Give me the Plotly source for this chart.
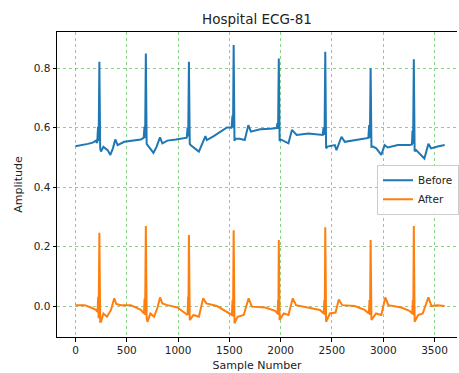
import plotly.graph_objects as go

# Values (sample index, amplitude)
before_x = [0, 60, 120, 168, 200, 212, 220, 226, 233, 241, 249, 272, 314, 340, 365, 388, 411, 475, 560, 637,
            665, 673, 679, 686, 694, 702, 734, 760, 790, 824, 847, 896, 980, 1057,
            1085, 1093, 1099, 1106, 1114, 1122, 1160, 1203, 1267, 1280, 1348, 1400, 1445, 1477, 1515,
            1522, 1530, 1536, 1542, 1550, 1558, 1600, 1650, 1685, 1710, 1800, 1900, 1946,
            1962, 1968, 1975, 1982, 1990, 2001, 2040, 2076, 2110, 2156, 2270, 2383, 2410,
            2418, 2428, 2435, 2443, 2457, 2528, 2544, 2593, 2625, 2722, 2819, 2855,
            2863, 2870, 2877, 2885, 2900, 2932, 2981, 3013, 3045, 3142, 3256, 3280,
            3285, 3291, 3298, 3306, 3320, 3353, 3401, 3440, 3466, 3530, 3599]
before_y = [0.537, 0.540, 0.545, 0.549, 0.556, 0.548, 0.602, 0.555, 0.821, 0.530, 0.519, 0.535, 0.524, 0.508, 0.530, 0.560, 0.541, 0.552, 0.556, 0.560,
            0.565, 0.603, 0.565, 0.849, 0.545, 0.541, 0.524, 0.515, 0.535, 0.567, 0.547, 0.556, 0.560, 0.563,
            0.566, 0.600, 0.570, 0.821, 0.545, 0.541, 0.530, 0.519, 0.571, 0.558, 0.571, 0.582, 0.592, 0.600, 0.600,
            0.598, 0.640, 0.600, 0.877, 0.555, 0.563, 0.562, 0.558, 0.608, 0.586, 0.594, 0.596, 0.597,
            0.598, 0.615, 0.595, 0.832, 0.555, 0.560, 0.552, 0.547, 0.592, 0.575, 0.580, 0.574, 0.575,
            0.600, 0.575, 0.855, 0.530, 0.536, 0.541, 0.524, 0.569, 0.552, 0.558, 0.563, 0.565,
            0.608, 0.565, 0.799, 0.535, 0.536, 0.530, 0.508, 0.541, 0.533, 0.541, 0.541, 0.543,
            0.590, 0.545, 0.829, 0.520, 0.524, 0.513, 0.496, 0.545, 0.530, 0.536, 0.541]

after_x = [0, 90, 150, 200, 215, 221, 226, 233, 241, 249, 272, 307, 346, 378, 398, 443, 540, 637,
           668, 674, 679, 686, 694, 702, 730, 766, 800, 824, 847, 896, 993, 1073,
           1093, 1098, 1101, 1106, 1114, 1150, 1203, 1245, 1275, 1380, 1477,
           1525, 1531, 1536, 1542, 1550, 1580, 1640, 1688, 1720, 1849, 1946,
           1970, 1975, 1978, 1982, 1990, 2030, 2076, 2118, 2150, 2270, 2383,
           2420, 2426, 2430, 2435, 2443, 2480, 2535, 2567, 2600, 2722, 2819,
           2860, 2866, 2871, 2877, 2885, 2930, 2981, 3020, 3050, 3175, 3256,
           3283, 3289, 3293, 3298, 3306, 3340, 3385, 3440, 3470, 3530, 3599]
after_y = [0.003, 0.003, -0.005, -0.013, -0.020, 0.031, -0.041, 0.246, -0.053, -0.053, -0.025, -0.036, -0.013, 0.026, 0.007, 0.003, 0.003, -0.013,
           -0.025, 0.026, -0.030, 0.269, -0.040, -0.053, -0.025, -0.036, -0.005, 0.029, 0.009, 0.003, -0.005, -0.025,
           -0.030, 0.031, -0.030, 0.239, -0.047, -0.030, -0.036, 0.026, 0.009, 0.000, -0.019,
           -0.030, 0.020, -0.035, 0.255, -0.058, -0.036, -0.030, 0.026, -0.002, -0.005, -0.016,
           -0.025, 0.020, -0.030, 0.222, -0.047, -0.025, -0.030, 0.026, 0.003, -0.005, -0.013,
           -0.025, 0.020, -0.030, 0.265, -0.053, -0.025, -0.022, 0.022, 0.003, 0.000, -0.013,
           -0.025, 0.020, -0.030, 0.222, -0.047, -0.025, -0.030, 0.029, 0.003, -0.005, -0.016,
           -0.025, 0.020, -0.030, 0.269, -0.053, -0.030, -0.025, 0.029, 0.000, 0.003, 0.000]

x_ticks = [0, 500, 1000, 1500, 2000, 2500, 3000, 3500]
y_ticks = [0.0, 0.2, 0.4, 0.6, 0.8]

font = "DejaVu Sans, sans-serif"

fig = go.Figure()
fig.add_trace(go.Scatter(x=before_x, y=before_y, mode="lines", name="Before",
                         line=dict(color="#1f77b4", width=2)))
fig.add_trace(go.Scatter(x=after_x, y=after_y, mode="lines", name="After",
                         line=dict(color="#ff7f0e", width=2)))

axis_common = dict(showline=True, linecolor="black", linewidth=1,
                   ticks="outside", ticklen=3.5, tickcolor="black", tickwidth=0.8,
                   showgrid=True, gridcolor="rgba(0,150,0,0.45)", griddash="dot", gridwidth=0.8,
                   zeroline=False, tickfont=dict(size=10.5, color="#222"))

fig.update_layout(
    width=459, height=373,
    margin=dict(l=57, r=0, t=32, b=36),
    paper_bgcolor="white", plot_bgcolor="white",
    font=dict(family=font, color="#222"),
    title=dict(text="Hospital ECG-81", x=0.5, xref="paper", y=0.948, yanchor="middle",
               font=dict(size=13.5, color="#222")),
    xaxis=dict(range=[-180, 3719], tickvals=x_ticks, mirror=True, automargin=False,
               title=dict(text="Sample Number", font=dict(size=11), standoff=6), **axis_common),
    yaxis=dict(range=[-0.104, 0.921], tickvals=y_ticks, tickformat=".1f", mirror=False, automargin=False,
               title=dict(text="Amplitude", font=dict(size=11), standoff=8), **axis_common),
    legend=dict(x=0.8, y=0.565, xanchor="left", yanchor="top",
                bgcolor="rgba(255,255,255,0.85)", bordercolor="#cccccc", borderwidth=1,
                font=dict(size=10.5), itemwidth=30, tracegroupgap=0),
    showlegend=True,
)

fig.write_html("out.html")
